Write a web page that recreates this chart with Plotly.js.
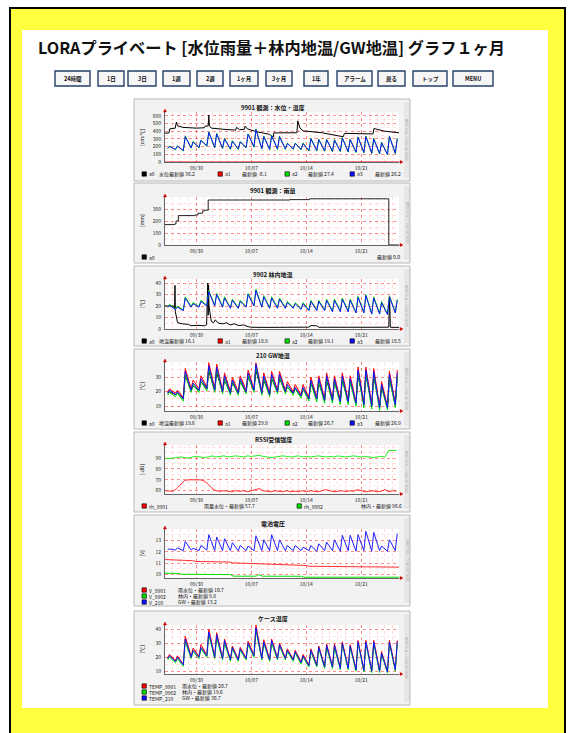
<!DOCTYPE html>
<html><head><meta charset="utf-8">
<script src="https://cdn.plot.ly/plotly-3.0.1.min.js"></script>
<style>html,body{margin:0;padding:0;background:#fff;overflow:hidden}#chart{width:573px;height:733px}</style>
</head><body><div id="chart"></div>
<script>
// ---------------- DATA ----------------
const pageTitle = 'LORAプライベート [水位雨量＋林内地温/GW地温] グラフ１ヶ月';
const btnLabels = ['24時間','1日','3日','1週','2週','1ヶ月','3ヶ月','1年','アラーム','戻る','トップ','MENU'];
const dayTicks = [4, 11, 18, 25];
const dayTickText = ['09/30', '10/07', '10/14', '10/21'];
const chartTitles = ['9901 観測：水位・温度','9901 観測：雨量','9902 林内地温','210 GW地温','RSSI受信強度','電池電圧','ケース温度'];
const yLabels = ['[cm/℃]','[mm]','[℃]','[℃]','[-dB]','[V]','[℃]'];
const yTicks = [[0,100,200,300,400,500,600],[0,100,200,300],[0,10,20,30,40],[10,20,30],[60,70,80,90],[10,11,12,13],[10,20,30,40]];

// chart 1 : water level (irregular samples, days since 09/26)
const c1_a0_t = [0,0.5,0.6,1.3,1.45,1.6,2.3,4.0,5.0,5.1,5.5,5.58,5.65,5.9,7.5,9.0,9.1,9.5,10.1,10.2,10.5,11.6,13.3,13.8,13.85,16.8,16.9,17.2,17.6,20,22.7,22.85,26.5,26.6,28,29.8];
const c1_a0_v = [375,378,430,440,520,470,450,440,445,465,470,610,470,440,425,415,450,420,425,465,430,395,360,325,378,380,535,440,405,380,328,372,365,435,400,380];
const c1_a1_t = [0, 29.8];
const c1_a1_v = [-0.1, -0.1];
// daily minima / maxima (one per day, 30 days)
const c1_a2_min = [172,158,142,178,182,202,182,172,162,162,182,192,168,158,162,162,162,158,142,142,138,132,132,128,122,118,108,102,92,108];
const c1_a2_max = [208,212,340,268,288,393,373,308,278,268,368,428,338,348,338,248,248,248,308,298,298,293,318,298,328,338,308,258,338,308];
const c1_a3_min = [180,165,150,185,190,210,190,180,170,170,190,200,175,165,170,170,170,165,150,150,145,140,140,135,130,125,115,110,100,115];
const c1_a3_max = [200,205,330,260,280,385,365,300,270,260,360,420,330,340,330,240,240,240,300,290,290,285,310,290,320,330,300,250,330,300];

// chart 2 : rain (step)
const c2_a0_t = [0,1.2,1.4,1.7,3.8,4.2,4.8,5.0,5.5,15.9,18.4,28.5,29.8];
const c2_a0_v = [170,175,200,245,250,265,285,290,375,378,385,0,0];

// chart 3 : 9902 forest soil temperature
const c3_a0_t = [0,1.1,1.22,1.27,1.32,1.6,2.2,3.0,3.3,4.2,5.0,5.3,5.4,5.45,5.5,5.55,5.6,5.9,6.2,6.4,6.8,7.4,7.8,8.3,8.8,9.4,10.0,10.6,11.0,13,15,17,18.3,18.6,19.3,19.6,21,23,25,27,28.5,28.6,28.7,29.8];
const c3_a0_v = [20,20,18,38,15,5.5,4.5,4,2.8,3.2,2.8,3.5,30,40,12,38,20,6.5,5.5,8,5,4.5,5.5,3.5,4.5,3,3.5,2,1.5,1.4,1.5,1.4,1.6,3,2.8,1.5,1.4,1.5,1.4,1.5,1.6,28,1.5,1.4];
const c3_a2_min = [19.5,17.5,16.5,19.5,19.5,20.5,20.5,19.5,18.5,18.5,19.5,20.5,19.5,18.5,18.5,18.5,18.5,17.5,16.5,16.5,16.5,15.5,15.5,15.5,14.5,14.5,13.5,13.5,13,14.5];
const c3_a2_max = [21.5,20,28,23,25,33.5,31,28,26,25,31,34.5,29,28,27,24,23,23,25,25,26,26,27,26,28.5,30,28,24,29,26];
const c3_a3_min = [19,17,16,19,19,20,20,19,18,18,19,20,19,18,18,18,18,17,16,16,16,15,15,15,14,14,13,13,12.5,14];
const c3_a3_max = [20.5,19,27,22,24,32.5,30,27,25,24,30,33.5,28,27,26,23,22,22,24,24,25,25,26,25,27.5,29,27,23,28,25];

// chart 4 : 210 GW soil temperature
const c4_a0_min = [19,18,15.5,21,21,22,21,20,19,19,20,21,19,18,20,20,19,17,15.5,15,14.5,14,13.5,13,12.5,11.5,10.5,9.5,9.5,11];
const c4_a0_max = [20,19,31,24,27,34,33,28,26,27,30,35,28,29,29,23,22,22,26,26,28,27,28,27,31,32,31,23,29,30];
const c4_a1_min = [20,19,16,22,22,23,22,21,20,20,21,22,20,19,21,21,20,18,16,16,15,15,14,14,13,12,11,10,10,12];
const c4_a1_max = [22,21,36,28,31,40,39,33,30,31,35,40,33,34,34,27,25,25,30,31,33,31,33,31,37,37,36,27,34,35];
const c4_a2_min = [17.5,16.5,13.5,19.5,19.5,20.5,19.5,18.5,17.5,17.5,18.5,19.5,17.5,16.5,18.5,18.5,17.5,15.5,13.5,13,12,12,11,11,10,9,8,7,7.5,9];
const c4_a2_max = [19.5,19,32,25,27,36,35,29,27,27,31,37,29,30,30,23.5,22,22,26,27,29,27,29,27,33,33,32,23.5,30,31];
const c4_a3_min = [19,18,15,21,21,22,21,20,19,19,20,21,19,18,20,20,19,17,15,15,14,14,13,13,12,11,10,9,9,11];
const c4_a3_max = [21,20,34,26,29,38,37,31,28,29,33,39,31,32,32,25,23,23,28,29,31,29,31,29,35,35,34,25,32,33];

// chart 5 : RSSI (half-day samples)
const c5_9901 = [60,59.5,59.5,62,66,69.5,70,70,69.5,70, 69,66,62,60,59.5,60,59.5,59,60,59.5, 60,59,60,61,62,60,59.5,59,60,59.5, 59,60,59,59.5,59,60,59,60,59.5,59, 60,61,60,59,59.5,60,59,60,59.5,61, 60,59,59.5,60,59,59.5,61,59,60,59.5];
const c5_9902 = [90,89.5,90,90.5,91,90.5,90,91,91.5,91, 90.5,91,92,91,91.5,92,91,91.5,92,91.5, 91,92,91.5,92,92.5,91.5,91,90.5,91,91.5, 92,91.5,91,91.5,92,91,91.5,91,91.5,92, 91.5,91,91.5,91,92,91.5,91,91.5,92,91.5, 91,91.5,91,90.5,91,91.5,91,97,97,97];

// chart 6 : battery voltage
const c6_9901_t = [0,1.5,2,3.5,4,5.5,6,8.3,8.6,12.5,15.9,16.2,18,18.3,24,29.8];
const c6_9901_v = [11.32,11.3,11.25,11.22,11.15,11.15,11.12,11.1,11.03,10.95,10.9,10.85,10.8,10.73,10.7,10.65];
const c6_9902_t = [0,1.8,2.0,8.3,8.7,11.6,11.9,12.4,17.4,17.7,29.8];
const c6_9902_v = [10.12,10.1,10.03,10.0,9.86,9.86,10.0,9.86,9.85,9.77,9.77];
const c6_210_min = [12.2,12.15,12.1,12.15,12.1,12.15,12.1,12.1,12.1,12.1,12.1,12.1,12.1,12.1,12.1,12.1,12.1,12.1,12.1,12.05,12.1,12.1,12.05,12.1,12.05,12.1,12.05,12.1,12.05,12.1];
const c6_210_max = [12.25,12.35,12.9,12.3,12.55,13.5,13.3,13.15,12.8,12.55,12.5,13.4,13.05,13.5,13.05,12.55,12.55,12.4,12.55,12.7,12.85,13.05,13.45,13.45,13.5,13.8,13.7,12.5,13.05,13.6];

// chart 7 : case temperature
const c7_9901_min = [19.5,17.5,15,20.5,20.5,21.5,20.5,19.5,18.5,18.5,19.5,21.5,19.5,18.5,19.5,19.5,18.5,16.5,14.5,14.5,13.5,13.5,12.5,12.5,11.5,11,10.5,10.5,10,11.5];
const c7_9901_max = [22,21,35,26.5,29,40,37.5,33,28,27,31.5,43,32.5,33,30,26,25,22,26,28,29.5,29.5,31,29,32,32,32,24,32,32];
const c7_9902_min = [18,16,13.5,19,19,20,19,18,17,17,18,20,18,17,18,18,17,15,13,13,12,12,11,11,10,9.5,9,9,8.7,10];
const c7_9902_max = [20,19,31,24,26,36,34,30,26,25,29,39,30,30,28,24,23,20,24,26,27,27,29,27,30,30,30,22,30,30];
const c7_210_min = [19,17,14.5,20,20,21,20,19,18,18,19,21,19,18,19,19,18,16,14,14,13,13,12,12,11,10.5,10,10,9.5,11];
const c7_210_max = [21,20,33,25,27,38,36,32,27,26,30,41,31,32,29,25,24,21,25,27,28.5,28.5,30,28,31,31,31,23,31,31];

// legend texts
const leg1 = [['a0','水位最新値 36.2'],['a1','最新値 -0.1'],['a2','最新値 27.4'],['a3','最新値 26.2']];
const leg2 = [['a0','最新値 0.0']];
const leg3 = [['a0','地温最新値 16.1'],['a1','最新値 18.9'],['a2','最新値 19.1'],['a3','最新値 18.5']];
const leg4 = [['a0','地温最新値 19.6'],['a1','最新値 29.9'],['a2','最新値 26.7'],['a3','最新値 26.9']];
const leg5 = [['rh_9901','雨量水位・最新値 57.7'],['rh_9902','林内・最新値 96.6']];
const leg6 = [['V_9901','雨水位・最新値 10.7'],['V_9902','林内・最新値 9.8'],['V_210','GW・最新値 13.2']];
const leg7 = [['TEMP_9901','雨水位・最新値 20.7'],['TEMP_9902','林内・最新値 19.6'],['TEMP_210','GW・最新値 30.7']];

// ---------------- LAYOUT ----------------
const W = 573, H = 733;
const FONT = '"Noto Sans CJK JP", "DejaVu Sans", sans-serif';
const px = x => x / W, py = y => 1 - y / H;
const BLACK = '#000000', RED = '#ff0000', GREEN = '#00e000', BLUE = '#1010ff';

// time sampling of the daily min/max arrays (dawn minimum, afternoon maximum)
const tDaily = [];
for (let d = 0; d < 30; d++) { tDaily.push(d + 0.33, d + 0.58); }
const tHalf = c5_9901.map((_, i) => i * 0.5);
const mix = (mn, mx) => mn.flatMap((v, i) => [v, mx[i]]);

const C = [
  {top:112, bot:162, range:[0,650], minor:50, panel:[99,181], tY:107},
  {top:197, bot:245, range:[0,400], minor:50, panel:[183,263], tY:190},
  {top:279, bot:329, range:[0,43.5], minor:5, panel:[266,346], tY:274},
  {top:362, bot:411, range:[6.7,40.5], minor:5, panel:[349,429], tY:355},
  {top:445, bot:494, range:[57,102], minor:5, panel:[432,512], tY:439},
  {top:529, bot:578, range:[9.7,14.0], minor:0.5, panel:[515,606], tY:523},
  {top:625, bot:674, range:[8,43], minor:5, panel:[611,705], tY:618}
];
const PX0 = 165, PX1 = 399, PL = 134, PR = 410;

const traces = [];
function add(i, x, y, color, shape) {
  const s = i === 0 ? '' : String(i + 1);
  traces.push({type:'scatter', mode:'lines', x, y, xaxis:'x' + s, yaxis:'y' + s,
    line:{color, width:1, shape: shape || 'linear'}, hoverinfo:'skip'});
}
add(0, c1_a0_t, c1_a0_v, BLACK);
add(0, c1_a1_t, c1_a1_v, RED);
add(0, tDaily, mix(c1_a2_min, c1_a2_max), GREEN);
add(0, tDaily, mix(c1_a3_min, c1_a3_max), BLUE);
add(1, c2_a0_t, c2_a0_v, '#222222', 'hv');
add(2, c3_a0_t, c3_a0_v, BLACK);
add(2, tDaily, mix(c3_a2_min, c3_a2_max), GREEN);
add(2, tDaily, mix(c3_a3_min, c3_a3_max), BLUE);
add(3, tDaily, mix(c4_a0_min, c4_a0_max), BLACK);
add(3, tDaily, mix(c4_a1_min, c4_a1_max), RED);
add(3, tDaily, mix(c4_a2_min, c4_a2_max), GREEN);
add(3, tDaily, mix(c4_a3_min, c4_a3_max), BLUE);
add(4, tHalf, c5_9901, '#ff3030');
add(4, tHalf, c5_9902, '#20ee20');
add(5, c6_9901_t, c6_9901_v, '#ff3030');
add(5, c6_9902_t, c6_9902_v, GREEN);
add(5, tDaily, mix(c6_210_min, c6_210_max), '#2020ff');
add(6, tDaily, mix(c7_9901_min, c7_9901_max), RED);
add(6, tDaily, mix(c7_9902_min, c7_9902_max), GREEN);
add(6, tDaily, mix(c7_210_min, c7_210_max), BLUE);

const layout = {
  width: W, height: H, margin:{l:0,r:0,t:0,b:0},
  paper_bgcolor:'#ffffff', plot_bgcolor:'rgba(0,0,0,0)', showlegend:false,
  font:{family:FONT, size:5, color:'#222'},
  shapes:[], annotations:[]
};
const R = (x0,y0,x1,y1,fill,line,lw,layer) => ({type:'rect', xref:'paper', yref:'paper',
  x0:px(x0), x1:px(x1), y0:py(y1), y1:py(y0), fillcolor:fill, line:{color:line||'rgba(0,0,0,0)', width:lw||0}, layer:layer||'below'});
const T = (x,y,text,size,o) => Object.assign({xref:'paper', yref:'paper', x:px(x), y:py(y), text,
  showarrow:false, xanchor:'left', yanchor:'middle', borderpad:0,
  font:{family:FONT, size, color:'#111'}}, o||{});

// page frame
layout.shapes.push(R(10, 8, 565, 745, '#ffff40', '#000', 2));
layout.shapes.push(R(22, 30, 548, 708, '#ffffff'));
layout.annotations.push(T(37, 47, '<b>' + pageTitle + '</b>', 16.2));

// buttons
const BTN = [[55,90],[98,124],[128,156],[163,190],[197,223],[230,258],[266,292],[304,328],[337,372],[378,405],[413,447],[453,493]];
btnLabels.forEach((lab, i) => {
  const [a, b] = BTN[i];
  layout.shapes.push(R(a, 71, b, 86, '#f6f6f6', '#24406a', 1.4));
  layout.annotations.push(T((a + b) / 2, 78.5, '<b>' + lab + '</b>', 5.5, {xanchor:'center', font:{family:FONT, size:5.5, color:'#111'}}));
});

// panels and axes
C.forEach((c, i) => {
  const s = i === 0 ? '' : String(i + 1);
  layout.shapes.push(R(PL, c.panel[0], PR, c.panel[1], '#f2f2f2', '#b8b8b8', 1));
  layout.shapes.push(R(405, c.panel[0] + 4, 409, c.panel[1] - 4, '#e8e8e8', '#d0d0d0', 0.5));
  layout.shapes.push(R(PX0, c.top, PX1, c.bot, '#ffffff'));
  // axis arrows
  layout.shapes.push({type:'path', xref:'paper', yref:'paper', layer:'above',
    path:`M ${px(PX0-1.5)} ${py(c.top)} L ${px(PX0+1.5)} ${py(c.top)} L ${px(PX0)} ${py(c.top-3)} Z`,
    fillcolor:'#cc0000', line:{color:'#cc0000', width:0.5}});
  layout.shapes.push({type:'path', xref:'paper', yref:'paper', layer:'above',
    path:`M ${px(PX1+1)} ${py(c.bot-1.5)} L ${px(PX1+1)} ${py(c.bot+1.5)} L ${px(PX1+4)} ${py(c.bot)} Z`,
    fillcolor:'#cc0000', line:{color:'#cc0000', width:0.5}});
  layout['xaxis' + s] = {domain:[px(PX0), px(PX1)], anchor:'y' + s, range:[0, 29.8],
    tickmode:'array', tickvals:dayTicks, ticktext:dayTickText, tickfont:{family:FONT, size:5, color:'#222'},
    showgrid:true, gridcolor:'rgba(255,0,0,0.55)', griddash:'dot', gridwidth:0.7,
    minor:{dtick:1, tick0:0, showgrid:true, gridcolor:'rgba(255,60,60,0.35)', griddash:'dot', gridwidth:0.5},
    showline:true, linecolor:'#666', linewidth:1, zeroline:false, ticks:'', fixedrange:true, ticklabelstandoff:1};
  layout['yaxis' + s] = {domain:[py(c.bot), py(c.top)], anchor:'x' + s, range:c.range,
    tickmode:'array', tickvals:yTicks[i], tickfont:{family:FONT, size:5, color:'#222'},
    showgrid:true, gridcolor:'rgba(255,0,0,0.55)', griddash:'dot', gridwidth:0.7,
    minor:{dtick:c.minor, tick0:0, showgrid:true, gridcolor:'rgba(255,60,60,0.3)', griddash:'dot', gridwidth:0.5},
    showline:true, linecolor:'#666', linewidth:1, zeroline:false, ticks:'', fixedrange:true, ticklabelstandoff:2};
  layout.annotations.push(T(273, c.tY, '<b>' + chartTitles[i] + '</b>', 6, {xanchor:'center'}));
  layout.annotations.push(T(141, (c.top + c.bot) / 2, yLabels[i], 5, {xanchor:'center', textangle:-90}));
  layout.annotations.push(T(407, (c.panel[0] + c.panel[1]) / 2, 'RRDTOOL / TOBI OETIKER', 3.5,
    {xanchor:'center', textangle:90, font:{family:FONT, size:3.5, color:'#b0b0b0'}}));
});

// legends
function sq(x, y, col) { layout.shapes.push(R(x, y - 2.2, x + 4.4, y + 2.2, col, '#000', 0.6, 'above')); }
function legRow4(items, y, cols) {
  const SQ = [142, 218, 285, 350], VAL = [158, 241, 307, 374];
  items.forEach((it, k) => {
    sq(SQ[k], y, cols[k]);
    layout.annotations.push(T(SQ[k] + 6, y, it[0], 5));
    layout.annotations.push(T(VAL[k], y, it[1], 5));
  });
}
const COL4 = [BLACK, RED, GREEN, BLUE];
legRow4(leg1, 174, COL4);
sq(142, 257, '#111'); layout.annotations.push(T(148, 257, leg2[0][0], 5));
layout.annotations.push(T(401, 257, leg2[0][1], 5, {xanchor:'right'}));
legRow4(leg3, 341, COL4);
legRow4(leg4, 423, COL4);
sq(142, 506, RED); layout.annotations.push(T(148, 506, leg5[0][0], 5));
layout.annotations.push(T(203, 506, leg5[0][1], 5));
sq(297, 506, GREEN); layout.annotations.push(T(303, 506, leg5[1][0], 5));
layout.annotations.push(T(403, 506, leg5[1][1], 5, {xanchor:'right'}));
const COL3 = [RED, GREEN, BLUE];
[590, 596, 602].forEach((y, k) => {
  sq(142, y, COL3[k]);
  layout.annotations.push(T(148, y, leg6[k][0], 5));
  layout.annotations.push(T(177, y, leg6[k][1], 5));
});
[686, 692, 698].forEach((y, k) => {
  sq(142, y, COL3[k]);
  layout.annotations.push(T(148, y, leg7[k][0], 5));
  layout.annotations.push(T(181, y, leg7[k][1], 5));
});

Plotly.newPlot('chart', traces, layout, {staticPlot:true, displayModeBar:false});
</script></body></html>
